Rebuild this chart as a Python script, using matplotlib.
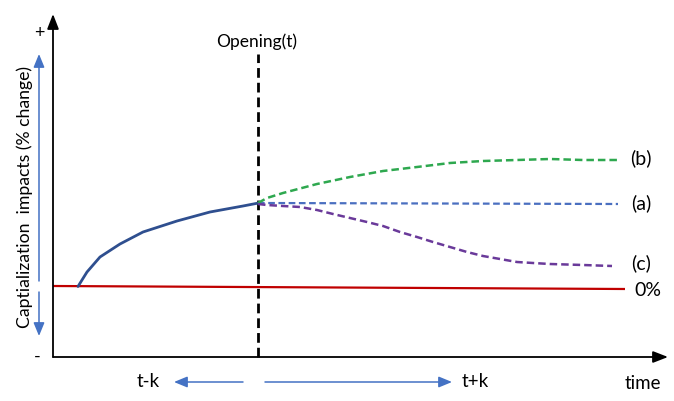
import matplotlib
matplotlib.use("Agg")
import matplotlib.pyplot as plt

plt.rcParams["font.family"] = ["Lato", "DejaVu Sans"]

# time in arbitrary units, opening at t = 0; impact in arbitrary % units
pre_t = [-18.0, -17.6, -17.1, -15.8, -13.8, -11.5, -8.1, -4.8, -1.5, -0.1, 0.0]
pre_y = [0.05, 0.7, 1.5, 3.0, 4.3, 5.5, 6.6, 7.5, 8.1, 8.37, 8.4]

b_t = [0.0, 0.9, 2.5, 5.9, 9.2, 12.5, 15.9, 19.2, 22.5, 25.9, 29.2, 32.5, 35.9]
b_y = [8.4, 8.9, 9.4, 10.3, 11.0, 11.6, 12.0, 12.4, 12.6, 12.7, 12.8, 12.7, 12.7]
c_t = [0.0, 0.9, 2.5, 4.2, 5.9, 7.5, 9.2, 10.9, 12.5, 14.2, 15.9, 17.5, 19.2,
       20.9, 22.5, 24.2, 25.9, 27.5, 29.2, 32.5, 35.4]
c_y = [8.3, 8.2, 8.1, 8.0, 7.7, 7.3, 6.9, 6.5, 6.1, 5.5, 5.0, 4.5, 4.0,
       3.5, 3.1, 2.8, 2.5, 2.4, 2.3, 2.2, 2.1]
a_t = [0.0, 36.0]
a_y = [8.4, 8.3]
zero_t = [-20.5, 36.7]
zero_y = [0.1, -0.2]

labels = {"(b)": 13.0, "(a)": 8.5, "(c)": 2.5, "0%": -0.3}

XMIN, XMAX = -20.5, 41.0
YMIN, YMAX = -7.0, 27.3

fig = plt.figure(figsize=(6.74, 4.02), dpi=100)
ax = fig.add_axes([53 / 674, 44 / 402, 615 / 674, 343 / 402])
ax.set_xlim(XMIN, XMAX)
ax.set_ylim(YMIN, YMAX)
ax.axis("off")

axis_arrow = dict(arrowstyle="-|>,head_width=0.35,head_length=0.9",
                  color="black", lw=1.3, shrinkA=0, shrinkB=0)
blue_arrow = dict(arrowstyle="-|>,head_width=0.33,head_length=0.8",
                  color="#4472C4", lw=1.1, shrinkA=0, shrinkB=0)

# axes with arrow heads
ax.annotate("", xy=(XMIN, YMAX), xytext=(XMIN, YMIN), annotation_clip=False,
            arrowprops=axis_arrow)
ax.annotate("", xy=(XMAX, YMIN), xytext=(XMIN, YMIN), annotation_clip=False,
            arrowprops=axis_arrow)

ax.plot(zero_t, zero_y, color="#C00000", lw=1.6, solid_capstyle="butt")
ax.plot([0, 0], [YMIN, 23.3], color="black", lw=2.0, ls=(0, (3.5, 1.8)),
        clip_on=False)
ax.plot(pre_t, pre_y, color="#2F4F8F", lw=2.0, solid_capstyle="round",
        solid_joinstyle="round")
ax.plot(a_t, a_y, color="#4A6FC0", lw=1.6, ls=(0, (3, 1.6)))
ax.plot(b_t, b_y, color="#2EA84F", lw=1.8, ls=(0, (3, 1.6)))
ax.plot(c_t, c_y, color="#6A3A9A", lw=1.8, ls=(0, (3, 1.6)))

for txt, yv in labels.items():
    xv = 39.0 if txt == "0%" else 38.3
    ax.text(xv, yv, txt, ha="center", va="center", fontsize=14)

ax.text(-0.1, 24.6, "Opening(t)", ha="center", va="center", fontsize=12.5)

# left side: +/- marks and double arrow
ax.text(-21.9, 25.5, "+", ha="center", va="center", fontsize=13, clip_on=False)
ax.text(-22.1, -6.9, "-", ha="center", va="center", fontsize=13, clip_on=False)
ax.annotate("", xy=(-21.9, 23.3), xytext=(-21.9, 0.6), annotation_clip=False,
            arrowprops=blue_arrow)
ax.annotate("", xy=(-21.9, -4.9), xytext=(-21.9, -0.5), annotation_clip=False,
            arrowprops=blue_arrow)
ax.text(-23.3, 9.1, "Captialization  impacts (% change)", rotation=90,
        ha="center", va="center", fontsize=12.7, clip_on=False)

# bottom: t-k / t+k arrows and time label
ax.text(-11.0, -9.4, "t-k", ha="center", va="center", fontsize=13.5, clip_on=False)
ax.text(21.7, -9.4, "t+k", ha="center", va="center", fontsize=13.5, clip_on=False)
ax.text(38.5, -9.6, "time", ha="center", va="center", fontsize=13.5, clip_on=False)
ax.annotate("", xy=(-8.4, -9.5), xytext=(-1.5, -9.5), annotation_clip=False,
            arrowprops=blue_arrow)
ax.annotate("", xy=(19.4, -9.5), xytext=(0.7, -9.5), annotation_clip=False,
            arrowprops=blue_arrow)

fig.savefig("out.png", dpi=100)
